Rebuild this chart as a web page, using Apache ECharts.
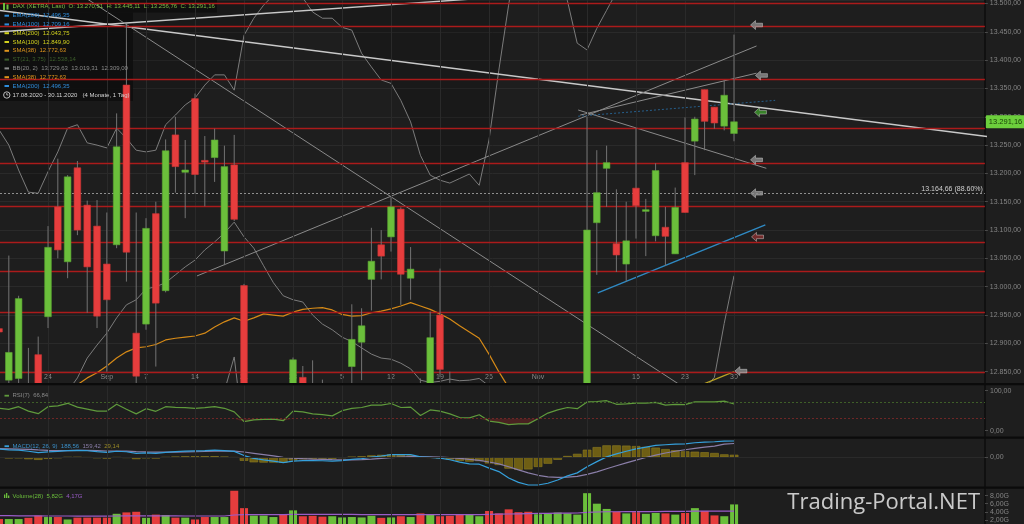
<!DOCTYPE html>
<html><head><meta charset="utf-8">
<script src="https://cdn.jsdelivr.net/npm/echarts@6/dist/echarts.min.js"></script>
<style>html,body{margin:0;padding:0;background:#1e1e1e;overflow:hidden}#c{width:1024px;height:524px}</style>
</head><body><div id="c"></div>
<script>
// ---------- trading days (index = position on the time axis) ----------
const days = ['17.08.','18.08.','19.08.','20.08.','21.08.','24.08.','25.08.','26.08.','27.08.','28.08.','31.08.',
'01.09.','02.09.','03.09.','04.09.','07.09.','08.09.','09.09.','10.09.','11.09.','14.09.','15.09.','16.09.','17.09.','18.09.','21.09.','22.09.','23.09.','24.09.','25.09.','28.09.','29.09.','30.09.',
'01.10.','02.10.','05.10.','06.10.','07.10.','08.10.','09.10.','12.10.','13.10.','14.10.','15.10.','16.10.','19.10.','20.10.','21.10.','22.10.','23.10.','26.10.','27.10.','28.10.','29.10.','30.10.',
'02.11.','03.11.','04.11.','05.11.','06.11.','09.11.','10.11.','11.11.','12.11.','13.11.','16.11.','17.11.','18.11.','19.11.','20.11.','23.11.','24.11.','25.11.','26.11.','27.11.','30.11.'];

// x-axis tick labels (day index -> text)
const tickIdx  = [0,5,11,15,20,25,30,35,40,45,50,55,60,65,70,75];
const tickText = ['17','24','Sep','7','14','21','28','5','12','19','26','Nov','9','16','23','30'];

// ---------- OHLC ----------
const opens  = [12926,12835,12838,12818,12880,12947,13141,13044,13210,13144,13107,13040,13074,13356,12918,12934,13129,12993,13268,13202,13332,13223,13228,13063,13215,13002,12540,12600,12520,12580,12560,12840,12800,12790,12660,12700,12859,12902,13013,13074,13088,13137,13015,12820,12760,12950,12820,12700,12520,12600,12400,12200,11950,11620,11560,11650,11850,12000,12450,12450,12600,13113,13209,13076,13040,13174,13133,13090,13105,13058,13219,13257,13348,13317,13283.5,13270.51];
const highs  = [12960,13055,12984,12892,12912,13107,13226,13197,13222,13152,13153,13131,13306,13462,13131,13121,13150,13260,13300,13259,13341,13266,13279,13249,13268,13005,12640,12710,12640,12640,12875,12860,12870,12836,12760,12828,12969,12962,13104,13100,13159,13140,13070,12838,12956,13032,12850,12720,12620,12700,12450,12300,12000,11730,11680,11800,12160,12420,12580,12530,13300,13241,13249,13172,13150,13281,13155,13218,13141,13175,13299,13300,13348,13317,13365,13445.11];
const lows   = [12890,12820,12825,12730,12740,12927,13050,13015,13091,12954,12927,12850,13068,13009,12750,12924,12859,12990,13166,13121,13164,13142,13185,13038,13116,12500,12450,12590,12470,12350,12540,12740,12700,12710,12600,12690,12810,12835,12958,13013,13062,12968,12977,12650,12740,12840,12700,12540,12460,12580,12150,12050,11500,11450,11450,11620,11840,11950,12400,12400,12600,13021,13141,13026,13009,13085,13054,13080,13037,13058,13131,13197,13241,13279,13276,13256.76];
const closes = [12920,12884,12979,12800,12765,13069.5,13065,13194,13100,13035,12948,12977,13247,13061,12842,13103,12971,13240,13212,13206,13198,13220,13259,13212,13119,12542,12594,12643,12607,12469,12871,12826,12761,12731,12689,12828,12907,12931,13045,13054,13141,13022,13031,12704,12910,12854,12737,12558,12543,12646,12177,12064,11561,11598,11556,11788,12089,12324,12568,12480,13100,13166,13219,13056,13081,13143,13136,13205,13089,13140,13131,13296,13292,13289,13338,13291.16];

// ---------- overlay indicators (main pane) ----------
const bbUpper = [13277,13250,13206,13167,13165,13203,13238,13280,13286,13254,13250,13245,13280,13262,13241,13238,13241,13286,13303,13321,13333,13356,13374,13374,13347,13444,13474,13497,13515,13540,13530,13510,13485,13474,13474,13458,13453,13412,13388,13365,13359,13329,13291,13232,13197,13188,13183,13191,13199,13179,13259,13382,13497,13600,13680,13700,13680,13580,13505,13430,13418,13456,13488,13520,13540,13560,13580,13600,13620,13640,13660,13680,13690,13700,13715,13729.63];
const bbMiddle = [12690,12700,12715,12730,12745,12765,12790,12815,12839,12874,12897,12918,12945,12968,12977,12996,13000,13007,13021,13035,13047,13065,13079,13095,13114,13088,13068,13037,13007,12984,12977,12973,12950,12934,12924,12911,12903,12892,12881,12874,12872,12865,12855,12835,12831,12833,12837,12834,12835,12838,12825,12800,12750,12700,12650,12600,12560,12540,12530,12520,12530,12560,12600,12630,12650,12680,12700,12720,12740,12760,12790,12805,12820,12840,12935,13019.31];
const bbLower = [12100,12150,12220,12290,12325,12330,12340,12350,12392,12494,12544,12591,12610,12674,12713,12754,12759,12728,12739,12749,12761,12774,12784,12816,12876,12732,12662,12577,12499,12430,12424,12436,12415,12394,12374,12364,12353,12372,12374,12383,12385,12401,12419,12438,12465,12478,12491,12477,12471,12497,12391,12218,12003,11800,11620,11500,11440,11500,11555,11610,11642,11664,11712,11740,11760,11800,11820,11860,11860,11880,11920,11930,11950,11980,12155,12309.00];
const sma38 = [null,null,null,null,null,null,null,12812,12827,12839,12848,12860,12874,12885,12892,12894,12898,12906,12909,12911,12913,12918,12929,12938,12945,12939,12945,12952,12950,12948,12955,12960,12962,12963,12959,12951,12948,12949,12954,12957,12961,12966,12972,12966,12960,12952,12943,12931,12920,12909,12881,12850,12822,12800,12780,12762,12750,12742,12738,12732,12735,12738,12742,12745,12747,12750,12752,12755,12757,12759,12760,12763,12766,12768,12770,12772.63];
const sma100 = [null,null,null,null,null,null,null,null,null,null,null,null,null,null,null,null,null,null,null,null,null,null,null,null,null,null,null,null,null,null,null,null,null,null,null,null,null,null,null,null,null,null,null,null,null,null,null,null,null,null,null,null,null,null,null,null,null,null,null,null,null,null,null,null,null,null,null,null,null,null,12818,12824,12829,12836,12843,12849.90];

// horizontal support / resistance levels
const levels = [13501,13460.5,13366,13279.5,13217.7,13142.4,13078.3,13027.2,12954.9,12849];
const fibLevel = 13164.66, fibText = '13.164,66 (88.60%)';
const lastClose = 13291.16;

// drawn trend lines: [day position, price] pairs
const trendWhite1 = [[0,13488],[104.5,13257]];
const trendWhite2 = [[0,13450],[50,13510]];
const trendGray1  = [[8.2,13517],[71.5,12804]];
const trendGray2  = [[20.2,13019],[77.3,13425]];
const trendGray3  = [[59.3,13303],[77.3,13377]];
const trendGray4  = [[59.1,13312],[78.3,13209]];
const trendBlue   = [[61.1,12989],[78.2,13109]];
const trendBlueDot= [[59.1,13301],[79.2,13329]];
// alert markers [day position, price, kind]
const alerts = [[77.3,13462,'g'],[77.8,13373,'g'],[77.7,13308,'up'],[77.3,13224,'g'],[77.3,13165,'g'],[77.4,13088,'dn'],[75.7,12851,'g']];

// ---------- RSI ----------
const rsi = [56,53.5,60,49,42.5,60,62,68.5,59,54,49,49,66,53.5,42,55,48.5,60,58.5,57.5,56,57.5,60,56,47,22.5,27,28.5,29,25,49,47,42,40,37,50,56,58,64,64,68,58,59,38,52,49,42,33,32,40,24,21,15,17,17,30,44,52,58,55,72,73,75,66,67,69,69,71,64,66,65,72,72,72,74,66.84];

// ---------- MACD ----------
const macd = [95,85,83,70,55,62,68,78,80,76,66,58,70,64,45,50,45,58,66,72,75,78,82,78,68,20,-12,-30,-45,-62,-45,-38,-38,-40,-45,-38,-25,-15,2,15,30,30,30,5,0,-10,-28,-55,-75,-80,-125,-165,-240,-290,-320,-320,-300,-262,-215,-180,-110,-50,5,40,70,98,118,138,145,152,156,168,176,180,186,188.56];
const signal = [100,98,95,92,85,80,78,78,79,79,76,73,72,71,66,62,59,59,60,62,64,67,70,72,71,61,46,31,16,0,-9,-15,-20,-24,-28,-30,-29,-26,-20,-13,-4,3,8,7,6,3,-3,-13,-25,-36,-54,-76,-109,-145,-180,-208,-226,-233,-230,-220,-198,-168,-133,-98,-65,-32,-2,26,50,70,87,103,117,130,152,159.42];
const hist = [-5,-13,-12,-22,-30,-18,-10,0,1,-3,-10,-15,-2,-7,-21,-12,-14,-1,6,10,11,11,12,6,-3,-41,-58,-61,-61,-62,-36,-23,-18,-16,-17,-8,4,11,22,28,34,27,22,-2,-6,-13,-25,-42,-50,-44,-71,-89,-131,-145,-140,-112,-74,-29,15,40,88,118,138,138,135,130,120,112,95,82,69,65,59,50,34,29.14];

// ---------- Volume (billions) ----------
const volume = [2.2,2.2,2.2,2.5,3.05,2.7,2.7,2.1,2.55,2.55,2.55,2.55,3.5,3.85,4.0,2.5,3.3,3.2,2.55,2.55,2.1,2.7,2.7,2.7,9.2,4.9,3.05,3.05,2.7,3.2,4.35,2.9,3.0,2.8,2.9,2.6,2.7,2.6,3.0,2.5,2.6,2.9,2.7,3.6,3.4,2.9,3.0,3.3,3.2,2.9,4.2,3.6,4.6,3.9,4.0,3.4,3.6,3.8,3.6,3.3,8.6,6.0,4.7,4.0,3.6,3.9,3.5,3.7,3.6,3.3,3.7,4.9,4.2,3.1,2.9,5.82];
const volAvg = [3.05,3.05,3.0,3.0,3.0,2.95,2.95,2.95,2.9,2.9,2.9,2.9,2.95,3.0,3.0,3.0,3.0,3.0,3.0,2.95,2.95,2.95,2.95,2.95,3.2,3.3,3.3,3.3,3.3,3.3,3.35,3.35,3.35,3.35,3.35,3.35,3.35,3.3,3.3,3.3,3.3,3.3,3.3,3.3,3.3,3.3,3.3,3.3,3.3,3.3,3.35,3.4,3.45,3.5,3.55,3.6,3.6,3.65,3.65,3.7,3.85,3.95,4.0,4.0,4.05,4.05,4.05,4.05,4.1,4.1,4.1,4.15,4.15,4.15,4.15,4.17];

// ---------- legend texts ----------
const headerText = 'DAX (XETRA, Last)  O: 13.270,51  H: 13.445,11  L: 13.256,76  C: 13.291,16';
const legendNames  = ['EMA(200)','EMA(100)','SMA(200)','SMA(100)','SMA(38)','ST(21, 3.75)','BB(20, 2)','SMA(38)','EMA(200)'];
const legendValues = ['12.496,35','12.709,16','12.043,75','12.849,90','12.772,63','12.538,14','13.729,63  13.019,31  12.309,00','12.772,63','12.496,35'];
const legendColors = ['#2e8ddc','#2e8ddc','#d2d21e','#d2d21e','#e0951c','#3d5f2c','#8c8c8c','#e0951c','#2e8ddc'];
const rangeText = '17.08.2020 - 30.11.2020   (4 Monate, 1 Tag)';

// ---------- helpers ----------
const FONT = '"Liberation Sans", Arial, sans-serif';
const GREEN = '#6bbf3b', RED = '#e63d3d';
function de(v){ const neg=v<0; const s=Math.abs(v).toFixed(2).split('.'); return (neg?'-':'')+s[0].replace(/\B(?=(\d{3})+(?!\d))/g,'.')+','+s[1]; }
const pairs = arr => arr.map((v,i)=>[i,v]).filter(p=>p[1]!==null);
const candleData = opens.map((o,i)=>[i,o,closes[i],lows[i],highs[i]]);
const volData = volume.map((v,i)=>({value:[i,v],itemStyle:{color: closes[i]>=opens[i]?GREEN:RED}}));
const labelSet = {}; tickIdx.forEach((k,j)=>labelSet[k]=tickText[j]);
const vLines = tickIdx.map(k=>({xAxis:k}));
const XMIN = 0.1, XMAX = 100.6;

function xAx(gi, showLabels){
  return {type:'value', gridIndex:gi, min:XMIN, max:XMAX,
    axisLine:{show:false}, splitLine:{show:false},
    axisTick:{show:showLabels, length:2, customValues:tickIdx, lineStyle:{color:'#555'}},
    axisLabel:{show:showLabels, inside:true, margin:2, fontSize:7, fontFamily:FONT, color:'#8a8a8a',
      customValues:tickIdx, formatter:(v)=>labelSet[Math.round(v)]||''}};
}
function lineS(name, data, color, width, opts){
  return Object.assign({type:'line', name, data:pairs(data), xAxisIndex:0, yAxisIndex:0, showSymbol:false, symbol:'none', silent:true,
    lineStyle:{color, width}, z:3, animation:false}, opts||{});
}
function trend(data, color, width, type, clip){
  return {type:'line', data, xAxisIndex:0, yAxisIndex:0, showSymbol:false, symbol:'none', silent:true, clip: clip,
    lineStyle:{color, width, type:type||'solid'}, z:3, animation:false};
}
function vGrid(xi, yi, extra){
  return {type:'line', data:[], xAxisIndex:xi, yAxisIndex:yi, z:1, silent:true,
    markLine:{silent:true, symbol:['none','none'], animation:false, label:{show:false},
      lineStyle:{color:'#2a2a2a', width:1, type:'solid'}, data:vLines.concat(extra||[])}};
}
const arrowPath = 'path://M0,5 L5,0 L5,3 L12,3 L12,7 L5,7 L5,10 Z';
const yCommon = {position:'right', axisLine:{show:true, lineStyle:{color:'#0c0c0c', width:1.5}},
  axisTick:{show:true, length:3, lineStyle:{color:'#4a4a4a'}}, splitLine:{show:false}};
const lbl = (fmt)=>({color:'#858585', fontSize:7, fontFamily:FONT, margin:5, showMinLabel:false, showMaxLabel:false, formatter:fmt});

const option = {
  backgroundColor:'#1e1e1e',
  animation:false,
  grid:[
    {left:0, right:39, top:0, height:383},
    {left:0, right:39, top:385.5, height:51},
    {left:0, right:39, top:438.5, height:48},
    {left:0, right:39, top:488.5, height:36}
  ],
  xAxis:[xAx(0,true), xAx(1,false), xAx(2,false), xAx(3,false)],
  yAxis:[
    Object.assign({}, yCommon, {type:'value', gridIndex:0, min:12830, max:13506, splitNumber:13,
      axisLabel:lbl((v)=>de(v)), splitLine:{show:true, lineStyle:{color:'#2a2a2a', width:1}}}),
    Object.assign({}, yCommon, {type:'value', gridIndex:1, min:-14.5, max:113, splitNumber:2,
      axisLabel:lbl((v)=>(v===0||v===100)?de(v):''), axisTick:{show:true, length:3, customValues:[0,100], lineStyle:{color:'#4a4a4a'}}}),
    Object.assign({}, yCommon, {type:'value', gridIndex:2, min:-337.6, max:217.3, splitNumber:2,
      axisLabel:lbl((v)=>v===0?de(v):''), axisTick:{show:true, length:3, customValues:[0], lineStyle:{color:'#4a4a4a'}}}),
    Object.assign({}, yCommon, {type:'value', gridIndex:3, min:0.976, max:9.756, splitNumber:4,
      axisLabel:lbl((v)=>de(v)+'G')})
  ],
  series:[
    vGrid(0,0), vGrid(1,1), vGrid(2,2,[{yAxis:0}]), vGrid(3,3),
    // Bollinger bands (darker zone above upper band)
    lineS('BBu', bbUpper, '#7c7c7c', 1, {areaStyle:{origin:'end', color:'rgba(0,0,0,0.22)'}, z:2}),
    lineS('BBm', bbMiddle, '#7c7c7c', 1),
    lineS('BBl', bbLower, '#7c7c7c', 1),
    lineS('SMA38', sma38, '#d68a17', 1.2),
    lineS('SMA100', sma100, '#b9a324', 1.2),
    // level lines
    {type:'line', data:[], xAxisIndex:0, yAxisIndex:0, z:2, silent:true,
      markLine:{silent:true, symbol:['none','none'], animation:false, label:{show:false},
        lineStyle:{color:'#ab1b1b', width:1.4, type:'solid'}, data:levels.map(v=>({yAxis:v}))}},
    {type:'line', data:[], xAxisIndex:0, yAxisIndex:0, z:2, silent:true,
      markLine:{silent:true, symbol:['none','none'], animation:false,
        lineStyle:{color:'#8f8f8f', width:1, type:[2,2]},
        label:{show:true, position:'insideEndTop', formatter:fibText, color:'#d0d0d0', fontSize:7, fontFamily:FONT, distance:[2,1]},
        data:[{yAxis:fibLevel}]}},
    // trend lines
    trend(trendWhite1, '#c9c9c9', 1.4, 'solid', false),
    trend(trendWhite2, '#c9c9c9', 1.4, 'solid', true),
    trend(trendGray1, '#8a8a8a', 1, 'solid', true),
    trend(trendGray2, '#8a8a8a', 1, 'solid', true),
    trend(trendGray3, '#8a8a8a', 1, 'solid', true),
    trend(trendGray4, '#8a8a8a', 1, 'solid', true),
    trend(trendBlue, '#2f8ac4', 1.4, 'solid', true),
    trend(trendBlueDot, '#265f8c', 1, [2,2], true),
    // candles
    {type:'custom', name:'DAX', xAxisIndex:0, yAxisIndex:0, z:5, clip:true, silent:true,
      data:candleData, encode:{x:0, y:[1,2,3,4]},
      renderItem:function(params, api){
        const i=api.value(0), o=api.value(1), c=api.value(2), l=api.value(3), h=api.value(4);
        const pH=api.coord([i,h]), pL=api.coord([i,l]), pO=api.coord([i,o]), pC=api.coord([i,c]);
        const bw=api.size([1,0])[0]*0.68;
        const up=c>=o;
        const top=Math.min(pO[1],pC[1]), hh=Math.max(Math.abs(pO[1]-pC[1]),1.6);
        return {type:'group', children:[
          {type:'line', shape:{x1:pH[0],y1:pH[1],x2:pL[0],y2:pL[1]}, style:{stroke:'#737373', lineWidth:1}},
          {type:'rect', shape:{x:pO[0]-bw/2, y:top, width:bw, height:hh}, style:{fill:up?GREEN:RED, stroke:up?'#5aa532':'#c93434', lineWidth:0.6}}
        ]};
      }},
    // last price label on the price axis
    {type:'line', data:[], xAxisIndex:0, yAxisIndex:0, z:8, silent:true,
      markLine:{silent:true, symbol:['none','none'], animation:false,
        lineStyle:{color:'rgba(0,0,0,0)', width:0},
        label:{show:true, position:'end', distance:1, formatter:de(lastClose), color:'#173d07', backgroundColor:'#6ccf3c',
          padding:[3,3,2,3], fontSize:7.5, fontFamily:FONT, borderRadius:1},
        data:[{yAxis:lastClose}]}},
    // alert markers
    {type:'scatter', xAxisIndex:0, yAxisIndex:0, z:6, silent:true, symbol:arrowPath, symbolSize:[12,9],
      data:alerts.map(a=>({value:[a[0],a[1]], itemStyle:{color: a[2]==='up'?'#3f9a2c':(a[2]==='dn'?'#8a3030':'#8c8c8c'), borderColor:'#cfcfcf', borderWidth:0.6}}))},
    // RSI oversold fill + line
    {type:'line', data:pairs(rsi.map(v=>v<30?v:30)), xAxisIndex:1, yAxisIndex:1, showSymbol:false, symbol:'none', silent:true, z:2,
      lineStyle:{opacity:0}, areaStyle:{origin:30, color:'rgba(170,40,40,0.45)'}},
    {type:'line', data:pairs(rsi), xAxisIndex:1, yAxisIndex:1, showSymbol:false, symbol:'none', silent:true, z:3,
      lineStyle:{color:'#5f9a3c', width:1.2},
      markLine:{silent:true, symbol:['none','none'], animation:false, label:{show:false},
        data:[{yAxis:70, lineStyle:{color:'#3f5f28', type:[2,2], width:1}},{yAxis:30, lineStyle:{color:'#6e2626', type:[2,2], width:1}}]}},
    // MACD
    {type:'bar', data:pairs(hist), xAxisIndex:2, yAxisIndex:2, barWidth:8.6, z:2, silent:true,
      itemStyle:{color:'#6e5e14', borderColor:'#8e7d22', borderWidth:0.6}},
    {type:'line', data:pairs(signal), xAxisIndex:2, yAxisIndex:2, showSymbol:false, symbol:'none', silent:true, z:3,
      lineStyle:{color:'#8a7ea8', width:1.2}},
    {type:'line', data:pairs(macd), xAxisIndex:2, yAxisIndex:2, showSymbol:false, symbol:'none', silent:true, z:4,
      lineStyle:{color:'#35a0dc', width:1.2}},
    // Volume
    {type:'bar', data:volData, xAxisIndex:3, yAxisIndex:3, barWidth:8, z:2, silent:true},
    {type:'line', data:pairs(volAvg), xAxisIndex:3, yAxisIndex:3, showSymbol:false, symbol:'none', silent:true, z:3,
      lineStyle:{color:'#9a5cc8', width:1.2}}
  ],
  graphic:[]
};

// separators
const g = option.graphic;
[383,436.5,486.5].forEach(y=>g.push({type:'rect', z:40, silent:true, shape:{x:0,y:y,width:1024,height:2.2}, style:{fill:'#0b0b0b'}}));
// legend background
g.push({type:'rect', z:1, silent:true, shape:{x:0,y:0,width:217,height:12.5}, style:{fill:'rgba(16,16,16,0.82)'}});
g.push({type:'rect', z:1, silent:true, shape:{x:0,y:12.5,width:133,height:88.5}, style:{fill:'rgba(16,16,16,0.82)'}});
// header row
g.push({type:'rect', z:50, silent:true, shape:{x:3,y:3,width:2,height:7}, style:{fill:GREEN}});
g.push({type:'rect', z:50, silent:true, shape:{x:6.5,y:4.5,width:2,height:5}, style:{fill:GREEN}});
g.push({type:'text', z:50, silent:true, style:{x:12.5, y:6.8, text:headerText, fill:'#7cbf45', font:'6px '+FONT, textVerticalAlign:'middle'}});
const rowY = [15.7,24.4,33.2,42,50.8,59.6,68.4,77.2,86];
legendNames.forEach((nm,k)=>{
  g.push({type:'rect', z:50, silent:true, shape:{x:4.5,y:rowY[k]-1,width:4.5,height:2}, style:{fill:legendColors[k]}});
  g.push({type:'text', z:50, silent:true, style:{x:12.5, y:rowY[k], text:nm+'  '+legendValues[k], fill:legendColors[k], font:'6px '+FONT, textVerticalAlign:'middle'}});
});
g.push({type:'circle', z:50, silent:true, shape:{cx:6.8,cy:95,r:3.2}, style:{fill:'none', stroke:'#cfcfcf', lineWidth:0.9}});
g.push({type:'polyline', z:50, silent:true, shape:{points:[[6.8,93],[6.8,95],[8.3,95]]}, style:{stroke:'#cfcfcf', lineWidth:0.8, fill:'none'}});
g.push({type:'text', z:50, silent:true, style:{x:12.5, y:95, text:rangeText, fill:'#d2d2d2', font:'6px '+FONT, textVerticalAlign:'middle'}});
// pane titles
g.push({type:'rect', z:50, silent:true, shape:{x:4.5,y:394.8,width:4.5,height:1.8}, style:{fill:'#5f9a3c'}});
g.push({type:'text', z:50, silent:true, style:{x:12.5, y:395.8, text:'RSI(7)  66,84', fill:'#8a8a8a', font:'6px '+FONT, textVerticalAlign:'middle'}});
g.push({type:'rect', z:50, silent:true, shape:{x:4.5,y:445.3,width:4.5,height:1.8}, style:{fill:'#35a0dc'}});
g.push({type:'text', z:50, silent:true, style:{x:12.5, y:446.2, textVerticalAlign:'middle', font:'6px '+FONT,
  text:'{a|MACD(12, 26, 9)  188,56}  {b|159,42}  {c|29,14}', rich:{a:{fill:'#3a8fc8', font:'6px '+FONT}, b:{fill:'#8a7ea8', font:'6px '+FONT}, c:{fill:'#9a8a26', font:'6px '+FONT}}}});
g.push({type:'rect', z:50, silent:true, shape:{x:4,y:494.5,width:1.3,height:3.5}, style:{fill:GREEN}});
g.push({type:'rect', z:50, silent:true, shape:{x:6,y:493,width:1.3,height:5}, style:{fill:GREEN}});
g.push({type:'rect', z:50, silent:true, shape:{x:8,y:495.5,width:1.3,height:2.5}, style:{fill:GREEN}});
g.push({type:'text', z:50, silent:true, style:{x:12.5, y:496.5, textVerticalAlign:'middle', font:'6px '+FONT,
  text:'{a|Volume(28)  5,82G}  {b|4,17G}', rich:{a:{fill:'#6bbf3b', font:'6px '+FONT}, b:{fill:'#9a5cc8', font:'6px '+FONT}}}});
// watermark
g.push({type:'text', z:60, silent:true, style:{x:980, y:503, text:'Trading-Portal.NET', fill:'rgba(226,226,226,0.88)', font:'22px "Open Sans", sans-serif', textAlign:'right', textVerticalAlign:'middle'}});

const chart = echarts.init(document.getElementById('c'), null, {renderer:'canvas', width:1024, height:524});
chart.setOption(option);
</script></body></html>
